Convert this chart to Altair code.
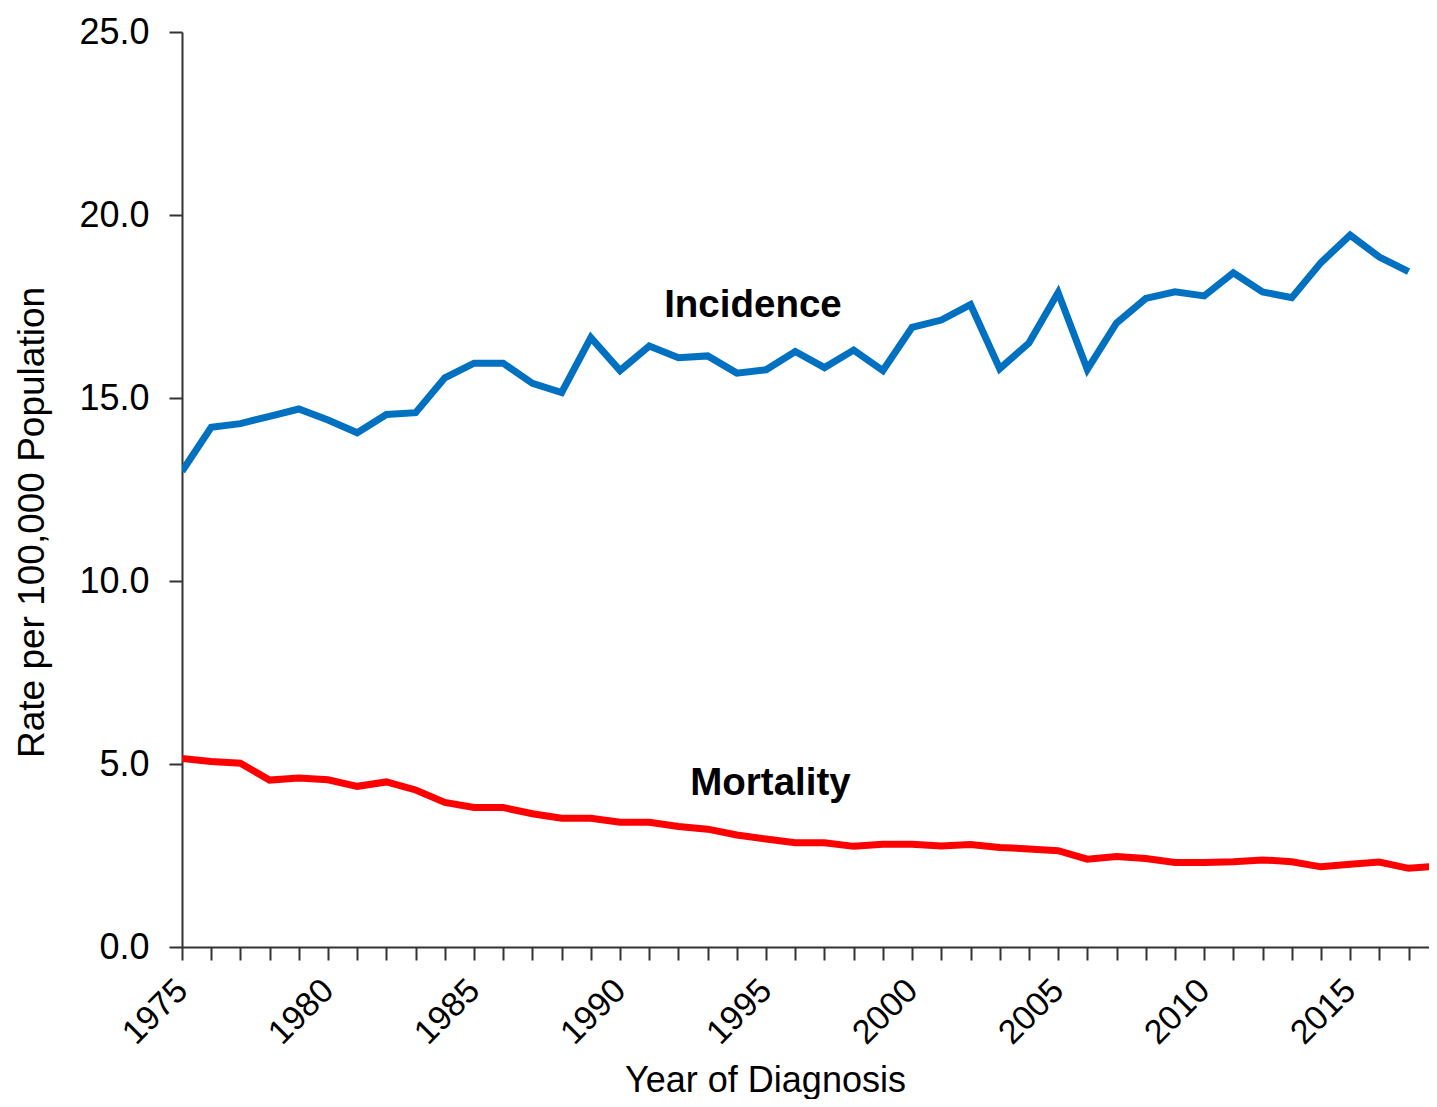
import altair as alt
import pandas as pd

# ---- data ----
inc_years = list(range(1975, 2018))
incidence = [13.0, 14.2, 14.3, 14.5, 14.7, 14.4, 14.05, 14.55, 14.6, 15.55,
             15.95, 15.95, 15.4, 15.15, 16.65, 15.75, 16.42, 16.1, 16.15, 15.68,
             15.77, 16.27, 15.83, 16.31, 15.75, 16.93, 17.13, 17.55, 15.8, 16.5,
             17.88, 15.78, 17.05, 17.72, 17.9, 17.79, 18.42, 17.9, 17.74, 18.7,
             19.45, 18.85, 18.45]

mort_years = list(range(1975, 2019))
mortality = [5.15, 5.07, 5.02, 4.56, 4.62, 4.57, 4.39, 4.51, 4.29, 3.95,
             3.81, 3.81, 3.64, 3.52, 3.52, 3.41, 3.41, 3.29, 3.22, 3.06,
             2.95, 2.85, 2.85, 2.75, 2.81, 2.81, 2.76, 2.80, 2.72, 2.68,
             2.63, 2.40, 2.47, 2.42, 2.31, 2.31, 2.33, 2.38, 2.33, 2.19,
             2.26, 2.32, 2.15, 2.21]

series_names = ["Incidence", "Mortality"]
series_colors = ["#0070C0", "#FF0000"]

tick_years = list(range(1975, 2018))
y_ticks = [0, 5, 10, 15, 20, 25]

# annotation labels (data units)
ann_labels = ["Incidence", "Mortality"]
ann_years = [1994.55, 1995.15]
ann_rates = [17.55, 4.47]

FONT = "Liberation Sans"

df = pd.concat([
    pd.DataFrame({"year": inc_years, "rate": incidence, "series": "Incidence"}),
    pd.DataFrame({"year": mort_years, "rate": mortality, "series": "Mortality"}),
], ignore_index=True)

ann = pd.DataFrame({"year": ann_years, "rate": ann_rates, "label": ann_labels})

x_enc = alt.X(
    "year:Q",
    scale=alt.Scale(domain=[1975, 2017.7], nice=False, zero=False),
    axis=alt.Axis(
        values=tick_years,
        format="d",
        labelExpr="datum.value % 5 == 0 ? datum.label : ''",
        labelAngle=315,
        labelAlign="right",
        labelBaseline="middle",
        labelPadding=25,
        labelFontSize=34,
        labelOverlap=False,
        labelFlush=False,
        tickSize=13,
        title="Year of Diagnosis",
        titleFontSize=36,
        titleFontWeight="normal",
        titleX=583,
        titleY=144,
        titleBaseline="alphabetic",
        titleAlign="center",
        grid=False,
    ),
)

y_enc = alt.Y(
    "rate:Q",
    scale=alt.Scale(domain=[0, 25], nice=False),
    axis=alt.Axis(
        values=y_ticks,
        format=".1f",
        labelFontSize=36,
        labelPadding=20,
        tickSize=13,
        title="Rate per 100,000 Population",
        titleFontSize=37,
        titleFontWeight="normal",
        titleAngle=270,
        titleX=-139,
        titleY=490,
        titleBaseline="alphabetic",
        titleAlign="center",
        grid=False,
    ),
)

lines = alt.Chart(df).mark_line(strokeWidth=7, clip=True).encode(
    x=x_enc,
    y=y_enc,
    color=alt.Color("series:N",
                    scale=alt.Scale(domain=series_names, range=series_colors),
                    legend=None),
)

labels = alt.Chart(ann).mark_text(
    font=FONT, fontSize=38.5, fontWeight="bold", color="black",
    align="center", baseline="middle",
).encode(
    x=x_enc,
    y=y_enc,
    text="label:N",
)

chart = alt.layer(lines, labels).properties(
    width=1247,
    height=915,
    autosize=alt.AutoSizeParams(type="none"),
    padding={"left": 174, "top": 24, "right": 0, "bottom": 152},
).configure_view(
    stroke=None
).configure_axis(
    labelFont=FONT,
    titleFont=FONT,
    labelColor="black",
    titleColor="black",
    domainColor="#333333",
    domainWidth=2,
    tickColor="#333333",
    tickWidth=2,
).configure_axisX(
    labelOverlap=False,
)

chart.save("out.html", embed_options={"renderer": "svg", "actions": False})
